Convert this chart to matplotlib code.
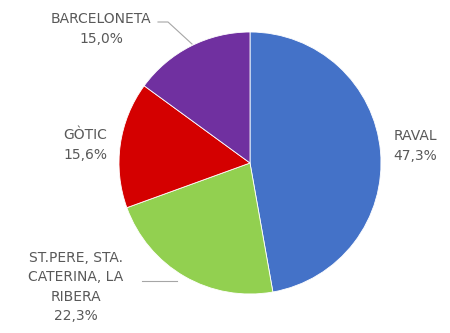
import matplotlib
matplotlib.use("Agg")
import matplotlib.pyplot as plt

categories = ["RAVAL", "ST.PERE, STA.\nCATERINA, LA\nRIBERA", "GÒTIC", "BARCELONETA"]
values = [47.3, 22.3, 15.6, 15.0]
pct_labels = ["47,3%", "22,3%", "15,6%", "15,0%"]
colors = ["#4472C8", "#92D050", "#D40000", "#7030A0"]

W, H = 450, 333
fig = plt.figure(figsize=(W / 100, H / 100), dpi=100)
cx, cy, r = 250, 163, 131
ax = fig.add_axes([(cx - r) / W, (H - cy - r) / H, 2 * r / W, 2 * r / H])
ax.pie(values, colors=colors, startangle=90, counterclock=False,
       wedgeprops=dict(edgecolor="white", linewidth=0.6), radius=1.0)
ax.set_aspect("equal")
ax.set_xlim(-1.0, 1.0)
ax.set_ylim(-1.0, 1.0)

tc = "#595959"
fs = 10
label_pos = [(415, 146), (76, 287), (85, 145), (101, 29)]
for cat, pct, (x, y) in zip(categories, pct_labels, label_pos):
    fig.text(x / W, 1 - y / H, f"{cat}\n{pct}", ha="center", va="center",
             color=tc, fontsize=fs, linespacing=1.5)

# leader lines (figure pixel coords)
def line(xs, ys):
    fig.add_artist(plt.Line2D([x / W for x in xs], [1 - y / H for y in ys],
                              color="#A6A6A6", lw=0.8))
line([158, 168, 192], [22, 22, 44])
line([142, 177], [281, 281])

fig.savefig("out.png", dpi=100, facecolor="white")
